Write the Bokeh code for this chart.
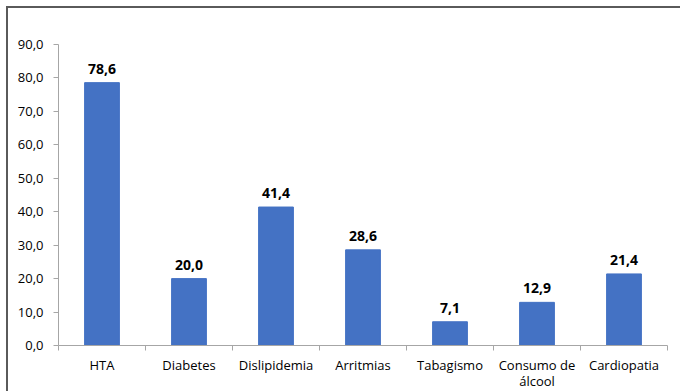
from bokeh.plotting import figure
from bokeh.models import ColumnDataSource, FixedTicker, CustomJSTickFormatter, LabelSet, Range1d
from bokeh.core.properties import value
from bokeh.embed import file_html
from bokeh.resources import INLINE

categories = ["HTA", "Diabetes", "Dislipidemia", "Arritmias", "Tabagismo", "Consumo de\nálcool", "Cardiopatia"]
values = [78.6, 20.0, 41.4, 28.6, 7.1, 12.9, 21.4]
y_ticks = [0, 10, 20, 30, 40, 50, 60, 70, 80, 90]

n = len(categories)
xs = [i + 0.5 for i in range(n)]
labels = [f"{v:.1f}".replace(".", ",") for v in values]
src = ColumnDataSource(dict(x=xs, top=values, label=labels))

FONT = "Open Sans"
AXIS = "#A6A6A6"

p = figure(frame_width=609, frame_height=301, output_backend="svg", toolbar_location=None,
           x_range=Range1d(0, n), y_range=Range1d(0, 90),
           min_border_left=50, min_border_right=13, min_border_top=36, min_border_bottom=46)
p.styles = {"margin-left": "6px", "margin-top": "6px",
            "border-left": "2px solid #5a5a5a", "border-top": "2px solid #5a5a5a"}
p.outline_line_color = None
p.grid.grid_line_color = None

p.vbar(x="x", top="top", width=0.4, bottom=0, source=src, color="#4472C4")

p.add_layout(LabelSet(x="x", y="top", text="label", source=src, text_align="center",
                      text_baseline="bottom", y_offset=9, text_font=value(FONT),
                      text_font_size="14px", text_font_style="bold", text_color="#000000"))

xa = p.xaxis[0]
xa.ticker = FixedTicker(ticks=xs, minor_ticks=list(range(n + 1)))
xa.major_label_overrides = {x: c for x, c in zip(xs, categories)}
xa.major_tick_line_color = None
xa.minor_tick_in = 0
xa.minor_tick_out = 5
xa.minor_tick_line_color = AXIS
xa.axis_line_color = AXIS
xa.major_label_text_font = FONT
xa.major_label_text_font_size = "13px"
xa.major_label_text_color = "#000000"
xa.major_label_text_line_height = 0.9
xa.major_label_standoff = 4

ya = p.yaxis[0]
ya.ticker = FixedTicker(ticks=y_ticks)
ya.formatter = CustomJSTickFormatter(code="return tick.toFixed(1).replace('.', ',');")
ya.minor_tick_line_color = None
ya.major_tick_in = 0
ya.major_tick_out = 5
ya.major_tick_line_color = AXIS
ya.axis_line_color = AXIS
ya.major_label_text_font = FONT
ya.major_label_text_font_size = "13px"
ya.major_label_text_color = "#000000"
ya.major_label_standoff = 10

open("out.html", "w").write(file_html(p, INLINE))
